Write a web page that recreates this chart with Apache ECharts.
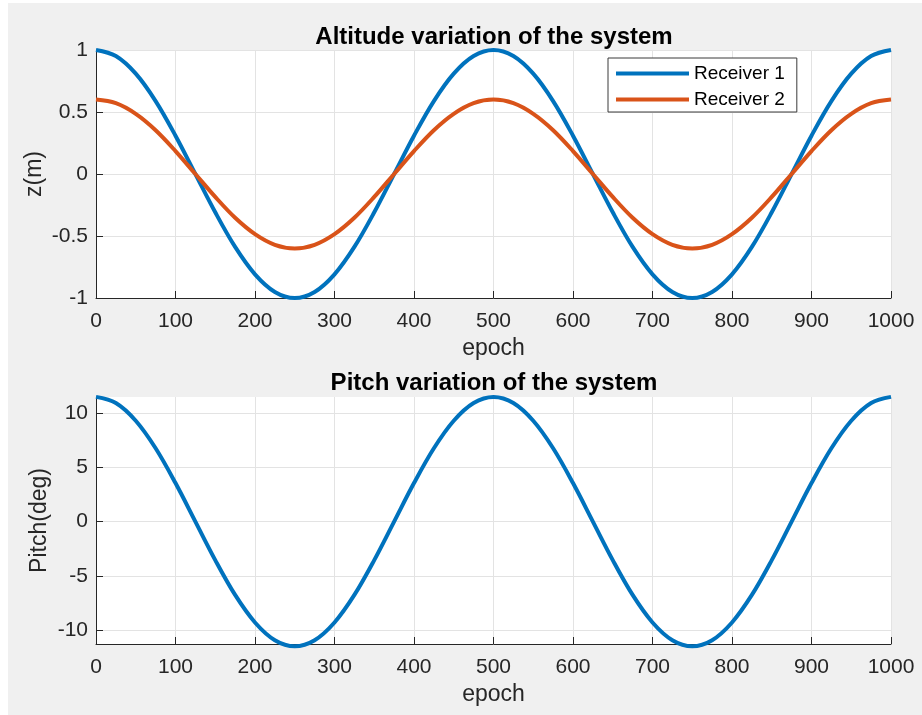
<!DOCTYPE html>
<html>
<head>
<meta charset="utf-8">
<script src="https://cdn.jsdelivr.net/npm/echarts@6/dist/echarts.min.js"></script>
<style>
html,body{margin:0;padding:0;background:#fff;width:922px;height:715px;overflow:hidden;}
#wrap{position:absolute;left:8px;top:3px;width:914px;height:712px;background:#f0f0f0;}
#chart{width:914px;height:712px;}
</style>
</head>
<body>
<div id="wrap"><div id="chart"></div></div>
<script>
// epochs sampled every 25
const epochs = [0,25,50,75,100,125,150,175,200,225,250,275,300,325,350,375,400,425,450,475,500,
  525,550,575,600,625,650,675,700,725,750,775,800,825,850,875,900,925,950,975,1000];
// altitude (m)
const receiver1 = [1,0.951,0.809,0.588,0.309,0,-0.309,-0.588,-0.809,-0.951,-1,-0.951,-0.809,-0.588,-0.309,0,0.309,0.588,0.809,0.951,1,
  0.951,0.809,0.588,0.309,0,-0.309,-0.588,-0.809,-0.951,-1,-0.951,-0.809,-0.588,-0.309,0,0.309,0.588,0.809,0.951,1];
const receiver2 = [0.6,0.571,0.485,0.353,0.185,0,-0.185,-0.353,-0.485,-0.571,-0.6,-0.571,-0.485,-0.353,-0.185,0,0.185,0.353,0.485,0.571,0.6,
  0.571,0.485,0.353,0.185,0,-0.185,-0.353,-0.485,-0.571,-0.6,-0.571,-0.485,-0.353,-0.185,0,0.185,0.353,0.485,0.571,0.6];
// pitch (deg)
const pitch = [11.46,10.9,9.27,6.74,3.54,0,-3.54,-6.74,-9.27,-10.9,-11.46,-10.9,-9.27,-6.74,-3.54,0,3.54,6.74,9.27,10.9,11.46,
  10.9,9.27,6.74,3.54,0,-3.54,-6.74,-9.27,-10.9,-11.46,-10.9,-9.27,-6.74,-3.54,0,3.54,6.74,9.27,10.9,11.46];
const pitchTicks = [-10,-5,0,5,10];
const titles = ['Altitude variation of the system','Pitch variation of the system'];
const seriesNames = ['Receiver 1','Receiver 2'];

const FONT = "'Liberation Sans', Arial, Helvetica, sans-serif";
const TXT = '#262626';
const GRIDC = '#e3e3e3';
const BLUE = '#0072BD';
const ORANGE = '#D95319';

function pairs(ys){ return epochs.map((x,i)=>[x, ys[i]]); }

function xAxis(idx){
  return {
    type:'value', gridIndex:idx, min:0, max:1000, interval:100,
    name:'epoch', nameLocation:'middle', nameGap:39,
    nameTextStyle:{fontFamily:FONT,fontSize:23,color:TXT},
    axisLine:{show:true,onZero:false,lineStyle:{color:TXT,width:1}},
    axisTick:{show:true,inside:true,length:7,lineStyle:{color:TXT}},
    axisLabel:{fontFamily:FONT,fontSize:21,color:TXT,margin:13,formatter:v=>String(v)},
    splitLine:{show:true,lineStyle:{color:GRIDC,width:1}}
  };
}

const chart = echarts.init(document.getElementById('chart'), null, {renderer:'canvas'});
chart.setOption({
  animation:false,
  backgroundColor:'transparent',
  grid:[
    {left:88, top:47, width:795, height:248, show:true, backgroundColor:'#fff', borderWidth:0},
    {left:88, top:394, width:795, height:247, show:true, backgroundColor:'#fff', borderWidth:0}
  ],
  graphic:[
    {type:'text', x:486, y:34, style:{text:titles[0], font:"bold 24px "+FONT, fill:'#000', align:'center', verticalAlign:'middle'}},
    {type:'text', x:486, y:380, style:{text:titles[1], font:"bold 24px "+FONT, fill:'#000', align:'center', verticalAlign:'middle'}}
  ],
  legend:{
    show:true, orient:'vertical', left:600, top:55,
    data:seriesNames,
    icon:'rect', itemWidth:73, itemHeight:4, itemGap:7,
    backgroundColor:'#fff', borderColor:'#3a3a3a', borderWidth:1,
    padding:[6,12,3,8],
    textStyle:{fontFamily:FONT,fontSize:19,color:'#000'}
  },
  xAxis:[xAxis(0), xAxis(1)],
  yAxis:[
    {type:'value', gridIndex:0, min:-1, max:1, interval:0.5,
     name:'z(m)', nameLocation:'middle', nameGap:50, nameMoveOverlap:false,
     nameTextStyle:{fontFamily:FONT,fontSize:23,color:TXT},
     axisLine:{show:true,lineStyle:{color:TXT,width:1}},
     axisTick:{show:true,inside:true,length:7,lineStyle:{color:TXT}},
     axisLabel:{fontFamily:FONT,fontSize:21,color:TXT,margin:8},
     splitLine:{show:true,lineStyle:{color:GRIDC,width:1}}},
    {type:'value', gridIndex:1, min:-11.25, max:11.45, splitNumber:5,
     name:'Pitch(deg)', nameLocation:'middle', nameGap:45, nameMoveOverlap:false,
     nameTextStyle:{fontFamily:FONT,fontSize:23,color:TXT},
     axisLine:{show:true,lineStyle:{color:TXT,width:1}},
     axisTick:{show:true,inside:true,length:7,lineStyle:{color:TXT},customValues:pitchTicks},
     axisLabel:{fontFamily:FONT,fontSize:21,color:TXT,margin:8,customValues:pitchTicks},
     splitLine:{show:true,lineStyle:{color:GRIDC,width:1}}}
  ],
  series:[
    {name:seriesNames[0], type:'line', xAxisIndex:0, yAxisIndex:0, data:pairs(receiver1), smooth:0.35,
     showSymbol:false, clip:false, lineStyle:{color:BLUE,width:4}, itemStyle:{color:BLUE}, z:3},
    {name:seriesNames[1], type:'line', xAxisIndex:0, yAxisIndex:0, data:pairs(receiver2), smooth:0.35,
     showSymbol:false, clip:false, lineStyle:{color:ORANGE,width:4}, itemStyle:{color:ORANGE}, z:3},
    {name:'Pitch', type:'line', xAxisIndex:1, yAxisIndex:1, data:pairs(pitch), smooth:0.35,
     showSymbol:false, clip:false, lineStyle:{color:BLUE,width:4}, itemStyle:{color:BLUE}, z:3}
  ]
});
</script>
</body>
</html>
